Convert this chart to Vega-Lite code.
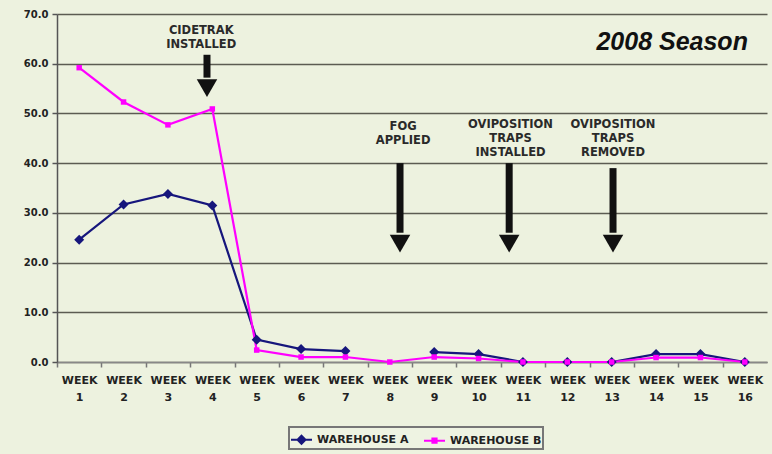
{
  "$schema": "https://vega.github.io/schema/vega-lite/v6.json",
  "width": 710,
  "height": 348,
  "autosize": {"type": "none"},
  "padding": {"left": 57, "top": 14, "right": 5, "bottom": 92},
  "background": "#edf2df",
  "config": {
    "view": {"stroke": null},
    "font": "DejaVu Sans"
  },
  "datasets": {
    "counts": [
      {"week": 1, "warehouse": "WAREHOUSE A", "value": 24.6},
      {"week": 2, "warehouse": "WAREHOUSE A", "value": 31.7},
      {"week": 3, "warehouse": "WAREHOUSE A", "value": 33.8},
      {"week": 4, "warehouse": "WAREHOUSE A", "value": 31.5},
      {"week": 5, "warehouse": "WAREHOUSE A", "value": 4.5},
      {"week": 6, "warehouse": "WAREHOUSE A", "value": 2.6},
      {"week": 7, "warehouse": "WAREHOUSE A", "value": 2.2},
      {"week": 8, "warehouse": "WAREHOUSE A", "value": null},
      {"week": 9, "warehouse": "WAREHOUSE A", "value": 2.0},
      {"week": 10, "warehouse": "WAREHOUSE A", "value": 1.6},
      {"week": 11, "warehouse": "WAREHOUSE A", "value": 0},
      {"week": 12, "warehouse": "WAREHOUSE A", "value": 0},
      {"week": 13, "warehouse": "WAREHOUSE A", "value": 0},
      {"week": 14, "warehouse": "WAREHOUSE A", "value": 1.6},
      {"week": 15, "warehouse": "WAREHOUSE A", "value": 1.6},
      {"week": 16, "warehouse": "WAREHOUSE A", "value": 0},
      {"week": 1, "warehouse": "WAREHOUSE B", "value": 59.2},
      {"week": 2, "warehouse": "WAREHOUSE B", "value": 52.3},
      {"week": 3, "warehouse": "WAREHOUSE B", "value": 47.7},
      {"week": 4, "warehouse": "WAREHOUSE B", "value": 50.9},
      {"week": 5, "warehouse": "WAREHOUSE B", "value": 2.4},
      {"week": 6, "warehouse": "WAREHOUSE B", "value": 1.0},
      {"week": 7, "warehouse": "WAREHOUSE B", "value": 1.0},
      {"week": 8, "warehouse": "WAREHOUSE B", "value": 0},
      {"week": 9, "warehouse": "WAREHOUSE B", "value": 1.0},
      {"week": 10, "warehouse": "WAREHOUSE B", "value": 0.7},
      {"week": 11, "warehouse": "WAREHOUSE B", "value": 0},
      {"week": 12, "warehouse": "WAREHOUSE B", "value": 0},
      {"week": 13, "warehouse": "WAREHOUSE B", "value": 0},
      {"week": 14, "warehouse": "WAREHOUSE B", "value": 0.9},
      {"week": 15, "warehouse": "WAREHOUSE B", "value": 0.9},
      {"week": 16, "warehouse": "WAREHOUSE B", "value": 0}
    ],
    "notes": [
      {"label": "CIDETRAK|INSTALLED", "textPos": 3.75, "textY": 66.6, "arrowPos": 3.88, "shaftTop": 61.8, "shaftEnd": 57.2, "head": 55.1},
      {"label": "FOG|APPLIED", "textPos": 8.3, "textY": 47.3, "arrowPos": 8.23, "shaftTop": 40.0, "shaftEnd": 26.0, "head": 23.8},
      {"label": "OVIPOSITION|TRAPS|INSTALLED", "textPos": 10.72, "textY": 47.7, "arrowPos": 10.69, "shaftTop": 40.0, "shaftEnd": 26.0, "head": 23.8},
      {"label": "OVIPOSITION|TRAPS|REMOVED", "textPos": 13.03, "textY": 47.7, "arrowPos": 13.03, "shaftTop": 39.0, "shaftEnd": 26.0, "head": 23.8}
    ],
    "heading": [
      {"text": "2008 Season", "xPos": 16.07, "yPos": 62.8}
    ]
  },
  "layer": [
    {
      "data": {"name": "counts"},
      "mark": {"type": "line", "strokeWidth": 2.2, "invalid": "break-paths-show-domains"},
      "encoding": {
        "x": {
          "field": "week",
          "type": "quantitative",
          "scale": {"domain": [0.5, 16.5], "nice": false, "zero": false},
          "axis": {
            "title": null,
            "values": [0.5, 1.5, 2.5, 3.5, 4.5, 5.5, 6.5, 7.5, 8.5, 9.5, 10.5, 11.5, 12.5, 13.5, 14.5, 15.5],
            "labelExpr": "['WEEK', '' + (datum.value + 0.5)]",
            "labelOffset": 22.19,
            "labelFlush": false,
            "labelBound": false,
            "labelOverlap": false,
            "labelFont": "DejaVu Sans",
            "labelFontWeight": "bold",
            "labelFontSize": 11,
            "labelColor": "#222222",
            "labelLineHeight": 17,
            "labelPadding": 7,
            "labelBaseline": "top",
            "grid": false,
            "tickSize": 5,
            "tickColor": "#777777",
            "tickWidth": 1.5,
            "domainColor": "#888888",
            "domainWidth": 1.5
          }
        },
        "y": {
          "field": "value",
          "type": "quantitative",
          "scale": {"domain": [0, 70], "nice": false},
          "axis": {
            "title": null,
            "values": [0, 10, 20, 30, 40, 50, 60, 70],
            "format": ".1f",
            "labelFont": "DejaVu Sans",
            "labelFontWeight": "bold",
            "labelFontSize": 10,
            "labelColor": "#222222",
            "labelPadding": 4,
            "tickSize": 5,
            "tickColor": "#555555",
            "tickWidth": 1.5,
            "domainColor": "#555555",
            "domainWidth": 1.5,
            "grid": true,
            "gridColor": "#5c5c52",
            "gridWidth": 1.6
          }
        },
        "color": {
          "field": "warehouse",
          "type": "nominal",
          "scale": {"domain": ["WAREHOUSE A", "WAREHOUSE B"], "range": ["#16167c", "#ff00ff"]},
          "legend": {
            "orient": "none",
            "legendX": 232,
            "legendY": 413,
            "direction": "horizontal",
            "title": null,
            "strokeColor": "#777777",
            "fillColor": "#eef3e2",
            "padding": 1,
            "symbolType": "M-1,0H1M0,-0.4L0.4,0L0,0.4L-0.4,0Z",
            "symbolSize": 441,
            "symbolStrokeWidth": 2,
            "labelFont": "DejaVu Sans",
            "labelFontWeight": "bold",
            "labelFontSize": 11,
            "labelColor": "#222222",
            "labelOffset": 4,
            "columnPadding": 11,
            "encode": {
              "legend": {"update": {"strokeWidth": {"value": 2}}},
              "symbols": {
                "update": {
                  "shape": {"signal": "datum.value === 'WAREHOUSE A' ? 'M-1,0H1M0,-0.38L0.38,0L0,0.38L-0.38,0Z' : 'M-1,0H1M-0.2,-0.2H0.2V0.2H-0.2Z'"},
                  "fill": {"signal": "datum.value === 'WAREHOUSE A' ? '#16167c' : '#ff00ff'"}
                }
              }
            }
          }
        }
      }
    },
    {
      "data": {"name": "counts"},
      "transform": [{"filter": "isValid(datum.value) && datum.warehouse === 'WAREHOUSE A'"}],
      "mark": {"type": "point", "shape": "diamond", "filled": true, "opacity": 1, "size": 100},
      "encoding": {
        "x": {"field": "week", "type": "quantitative"},
        "y": {"field": "value", "type": "quantitative"},
        "color": {"field": "warehouse", "type": "nominal", "legend": null}
      }
    },
    {
      "data": {"name": "counts"},
      "transform": [{"filter": "isValid(datum.value) && datum.warehouse === 'WAREHOUSE B'"}],
      "mark": {"type": "point", "shape": "square", "filled": true, "opacity": 1, "size": 30},
      "encoding": {
        "x": {"field": "week", "type": "quantitative"},
        "y": {"field": "value", "type": "quantitative"},
        "color": {"field": "warehouse", "type": "nominal", "legend": null}
      }
    },
    {
      "data": {"name": "notes"},
      "mark": {"type": "rule", "strokeWidth": 7, "color": "#111111"},
      "encoding": {
        "x": {"field": "arrowPos", "type": "quantitative"},
        "y": {"field": "shaftTop", "type": "quantitative"},
        "y2": {"field": "shaftEnd"}
      }
    },
    {
      "data": {"name": "notes"},
      "mark": {"type": "point", "shape": "triangle-down", "filled": true, "color": "#111111", "size": 420, "opacity": 1},
      "encoding": {
        "x": {"field": "arrowPos", "type": "quantitative"},
        "y": {"field": "head", "type": "quantitative"}
      }
    },
    {
      "data": {"name": "notes"},
      "mark": {"type": "text", "lineBreak": "|", "font": "DejaVu Sans", "fontWeight": "bold", "fontSize": 11.5, "lineHeight": 14, "color": "#2a2a2a", "align": "center", "baseline": "middle"},
      "encoding": {
        "x": {"field": "textPos", "type": "quantitative"},
        "y": {"field": "textY", "type": "quantitative"},
        "text": {"field": "label", "type": "nominal"}
      }
    },
    {
      "data": {"name": "heading"},
      "mark": {"type": "text", "font": "Liberation Sans", "fontWeight": "bold", "fontStyle": "italic", "fontSize": 25, "color": "#111111", "align": "right", "baseline": "alphabetic"},
      "encoding": {
        "x": {"field": "xPos", "type": "quantitative"},
        "y": {"field": "yPos", "type": "quantitative"},
        "text": {"field": "text", "type": "nominal"}
      }
    }
  ]
}
